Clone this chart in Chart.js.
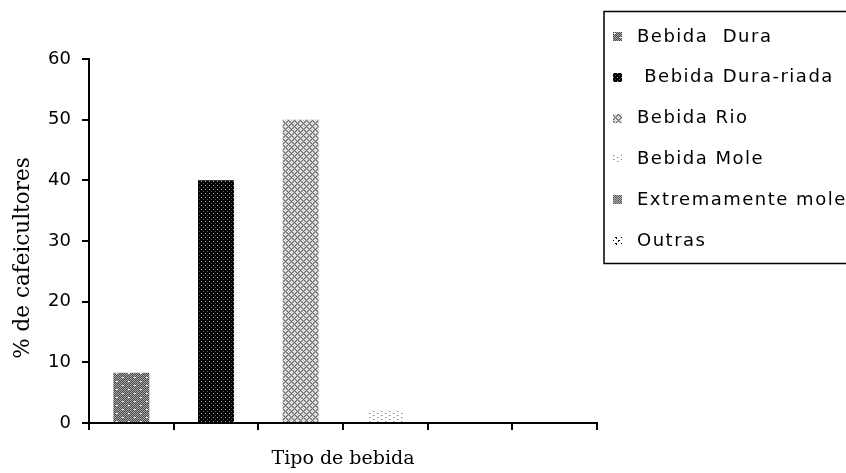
<!DOCTYPE html>
<html><head><meta charset="utf-8">
<script src="https://cdn.jsdelivr.net/npm/chart.js@4"></script>
<style>html,body{margin:0;padding:0;background:#fff}</style>
</head><body>
<canvas id="c" width="846" height="473"></canvas>
<script>
// ---- data ----
const categories = ['Bebida  Dura', ' Bebida Dura-riada', 'Bebida Rio', 'Bebida Mole', 'Extremamente mole', 'Outras'];
const values = [8.3, 40, 50, 2, 0, 0];
const yMin = 0, yMax = 60, yStep = 10;
const xTitle = 'Tipo de bebida';
const yTitle = '% de cafeicultores';

// ---- fill patterns ----
function makePattern(w, h, paint) {
  const c = document.createElement('canvas');
  c.width = w; c.height = h;
  const g = c.getContext('2d');
  paint(g, (x, y, col) => { g.fillStyle = col; g.fillRect(x, y, 1, 1); });
  return g.createPattern(c, 'repeat');
}
const patterns = [
  makePattern(12, 8, (g, p) => {
    for (let y = 0; y < 8; y++) for (let x = 0; x < 12; x++) p(x, y, (x + y) % 2 ? '#4a4a4a' : '#a6a6a6');
    p(2, 1, '#fff'); p(3, 1, '#fff'); p(8, 5, '#fff'); p(9, 5, '#fff');
  }),
  makePattern(4, 4, (g, p) => {
    g.fillStyle = '#000'; g.fillRect(0, 0, 4, 4);
    p(1, 1, '#aaa'); p(3, 3, '#555');
  }),
  makePattern(6, 6, (g, p) => {
    for (let y = 0; y < 6; y++) for (let x = 0; x < 6; x++) {
      const d = (x + y) % 6, e = (x - y + 6) % 6;
      p(x, y, (d === 0 || e === 0) ? '#6a6a6a' : ((x + y) % 2 ? '#b8b8b8' : '#fff'));
    }
  }),
  makePattern(8, 4, (g, p) => {
    g.fillStyle = '#fff'; g.fillRect(0, 0, 8, 4);
    p(1, 1, '#888'); p(5, 3, '#888'); p(2, 1, '#ccc'); p(6, 3, '#ccc');
  }),
  makePattern(2, 2, (g, p) => {
    p(0, 0, '#5c5c5c'); p(1, 1, '#5c5c5c'); p(1, 0, '#b0b0b0'); p(0, 1, '#b0b0b0');
  }),
  makePattern(6, 6, (g, p) => {
    g.fillStyle = '#fff'; g.fillRect(0, 0, 6, 6);
    p(0, 0, '#000'); p(1, 0, '#000'); p(0, 1, '#333'); p(3, 3, '#000'); p(4, 3, '#222'); p(4, 4, '#000');
  })
];

// ---- legend and y-axis title drawn on canvas ----
const boxLegend = {
  id: 'boxLegend',
  afterDraw(chart) {
    const ctx = chart.ctx;
    ctx.save();
    ctx.lineWidth = 1.5;
    ctx.strokeStyle = '#000';
    ctx.strokeRect(604, 11.5, 270, 252);
    ctx.font = '18px "DejaVu Sans"';
    try { ctx.letterSpacing = '1.5px'; } catch (e) {}
    ctx.textBaseline = 'middle';
    categories.forEach((c, i) => {
      const y = 36 + i * 40.8;
      ctx.fillStyle = patterns[i];
      ctx.fillRect(613, Math.round(y - 4), 9, 9);
      ctx.fillStyle = '#000';
      ctx.fillText(c, 637, y + 1);
    });
    ctx.restore();

    // y-axis title, placed as in the reference (slightly below the axis centre)
    ctx.save();
    try { ctx.letterSpacing = '0px'; } catch (e) {}
    ctx.font = '21.5px "DejaVu Serif"';
    ctx.fillStyle = '#000';
    ctx.textAlign = 'center';
    ctx.textBaseline = 'middle';
    ctx.translate(23, 258);
    ctx.rotate(-Math.PI / 2);
    ctx.fillText(yTitle, 0, 0);
    ctx.restore();
  }
};

new Chart(document.getElementById('c'), {
  type: 'bar',
  data: {
    labels: categories,
    datasets: [{
      data: values,
      backgroundColor: patterns,
      borderWidth: 0,
      categoryPercentage: 1,
      barPercentage: 0.425
    }]
  },
  options: {
    responsive: false,
    animation: false,
    layout: { padding: { left: 0, top: 59, right: 249, bottom: 0 } },
    plugins: { legend: { display: false }, tooltip: { enabled: false } },
    scales: {
      x: {
        offset: true,
        grid: { display: true, offset: true, drawOnChartArea: false, drawTicks: true, tickLength: 7, color: '#000', lineWidth: 2 },
        border: { display: true, color: '#000', width: 2 },
        ticks: { display: false },
        title: { display: true, text: xTitle, color: '#000', font: { family: 'DejaVu Serif', size: 19 }, padding: { top: 0, bottom: 3 } },
        afterFit(s) { s.height = 50; }
      },
      y: {
        min: yMin, max: yMax,
        ticks: { stepSize: yStep, color: '#000', font: { family: 'DejaVu Sans', size: 18 }, padding: 11 },
        grid: { display: true, drawOnChartArea: false, drawTicks: true, tickLength: 7, color: '#000', lineWidth: 2 },
        border: { display: true, color: '#000', width: 2 },
        title: { display: false },
        afterFit(s) { s.width = 89; }
      }
    }
  },
  plugins: [boxLegend]
});
</script>
</body></html>
